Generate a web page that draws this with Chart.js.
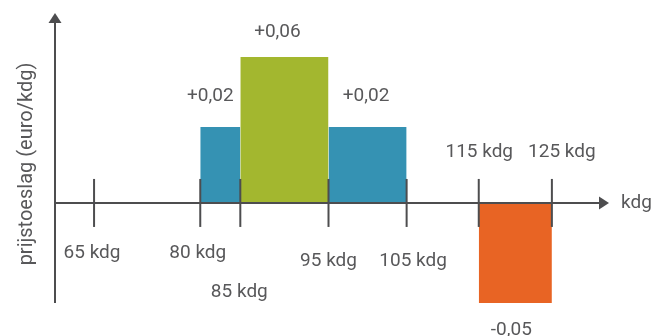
<!DOCTYPE html>
<html lang="nl">
<head>
<meta charset="utf-8">
<title>Prijstoeslag per gewichtsklasse</title>
<script src="https://cdn.jsdelivr.net/npm/chart.js@4.4.1/dist/chart.umd.min.js"></script>
<style>
  html, body { margin: 0; padding: 0; background: #ffffff; }
  #chart { display: block; }
</style>
</head>
<body>
<canvas id="chart" width="653" height="336"></canvas>
<script>
// Gewichtsklassen (kdg) die op de as gemarkeerd worden
const weightTicks = [65, 80, 85, 95, 105, 115, 125];

// Gewichtsbanden met hun prijstoeslag (euro/kdg)
const bandFrom = [80, 85, 95, 115];
const bandTo = [85, 95, 105, 125];
const surcharge = [0.02, 0.06, 0.02, -0.05];

const bandColors = ['#3592B3', '#A3B72F', '#3592B3', '#E86424'];
const TEXT = '#58585A';
const AXIS = '#4D4D4F';
const FONT = '19px Roboto, "Open Sans", sans-serif';
const TITLE_FONT = '20px Roboto, "Open Sans", sans-serif';

const formatSurcharge = v => (v > 0 ? '+' : '') + v.toFixed(2).replace('.', ',');
const formatWeight = v => v + ' kdg';

// Schematische as: waarden worden stuksgewijs lineair op de as gezet,
// zodat kleine en grote toeslagen allebei leesbaar blijven.
class SchematicScale extends Chart.LinearScale {
  _toDecimal(value) {
    const { knots, stops } = this.options;
    if (value <= knots[0]) return stops[0];
    for (let i = 1; i < knots.length; i++) {
      if (value <= knots[i]) {
        const t = (value - knots[i - 1]) / (knots[i] - knots[i - 1]);
        return stops[i - 1] + t * (stops[i] - stops[i - 1]);
      }
    }
    return stops[stops.length - 1];
  }
  getPixelForValue(value) {
    return this.getPixelForDecimal(this._toDecimal(value));
  }
  getValueForPixel(pixel) {
    const { knots, stops } = this.options;
    const d = this.getDecimalForPixel(pixel);
    for (let i = 1; i < stops.length; i++) {
      if (d <= stops[i]) {
        const t = (d - stops[i - 1]) / (stops[i] - stops[i - 1]);
        return knots[i - 1] + t * (knots[i] - knots[i - 1]);
      }
    }
    return knots[knots.length - 1];
  }
}
SchematicScale.id = 'schematic';
SchematicScale.defaults = {};
Chart.register(SchematicScale);

// Elke band als gevulde rechthoek tussen de as (0) en de toeslag
const datasets = surcharge.map((v, i) => ({
  data: [
    { x: bandFrom[i], y: 0 },
    { x: bandFrom[i], y: v },
    { x: bandTo[i], y: v },
    { x: bandTo[i], y: 0 }
  ],
  backgroundColor: bandColors[i],
  borderColor: bandColors[i],
  borderWidth: 0,
  pointRadius: 0,
  pointHoverRadius: 0,
  tension: 0,
  fill: 'origin'
}));

// Assen met pijlpunten, tickstrepen en alle teksten
const schematicAxes = {
  id: 'schematicAxes',
  afterDatasetsDraw(chart, args, opts) {
    const { ctx, chartArea: a, scales: { x, y } } = chart;
    const y0 = y.getPixelForValue(0);
    ctx.save();
    ctx.strokeStyle = AXIS;
    ctx.fillStyle = AXIS;
    ctx.lineWidth = 2;

    // verticale as
    ctx.beginPath();
    ctx.moveTo(a.left, a.bottom);
    ctx.lineTo(a.left, a.top + opts.arrowLength);
    ctx.stroke();
    ctx.beginPath();
    ctx.moveTo(a.left, a.top);
    ctx.lineTo(a.left - opts.arrowHalf, a.top + opts.arrowLength);
    ctx.lineTo(a.left + opts.arrowHalf, a.top + opts.arrowLength);
    ctx.closePath();
    ctx.fill();

    // horizontale as op toeslag 0
    ctx.beginPath();
    ctx.moveTo(a.left, y0);
    ctx.lineTo(a.right - opts.arrowLength, y0);
    ctx.stroke();
    ctx.beginPath();
    ctx.moveTo(a.right, y0);
    ctx.lineTo(a.right - opts.arrowLength, y0 - opts.arrowHalf);
    ctx.lineTo(a.right - opts.arrowLength, y0 + opts.arrowHalf);
    ctx.closePath();
    ctx.fill();

    // tickstrepen
    weightTicks.forEach(v => {
      const px = x.getPixelForValue(v);
      ctx.beginPath();
      ctx.moveTo(px, y0 - opts.tickLength);
      ctx.lineTo(px, y0 + opts.tickLength);
      ctx.stroke();
    });

    ctx.font = FONT;
    ctx.fillStyle = TEXT;
    ctx.textBaseline = 'alphabetic';

    // labels van de gewichtsklassen
    ctx.textAlign = 'center';
    weightTicks.forEach((v, i) => {
      const p = opts.tickLabelPlacement[i];
      ctx.fillText(formatWeight(v), x.getPixelForValue(v) + p.dx, y0 + p.dy);
    });

    // toeslagen boven/onder de banden
    surcharge.forEach((v, i) => {
      const p = opts.valueLabelPlacement[i];
      const cx = (x.getPixelForValue(bandFrom[i]) + x.getPixelForValue(bandTo[i])) / 2;
      const end = y.getPixelForValue(v);
      ctx.fillText(formatSurcharge(v), cx + p.dx, end + (v >= 0 ? -p.gap : p.gap));
    });

    // astitels
    ctx.textAlign = 'left';
    ctx.fillText('kdg', a.right + opts.xTitleGap, y0 + 5.5);

    ctx.save();
    ctx.font = TITLE_FONT;
    ctx.translate(opts.yTitleBaseline, (a.top + a.bottom) / 2 + opts.yTitleShift);
    ctx.rotate(-Math.PI / 2);
    ctx.textAlign = 'center';
    ctx.fillText('prijstoeslag (euro/kdg)', 0, 0);
    ctx.restore();

    ctx.restore();
  }
};

new Chart(document.getElementById('chart'), {
  type: 'line',
  data: { datasets },
  plugins: [schematicAxes],
  options: {
    responsive: false,
    animation: false,
    events: [],
    layout: { padding: { left: 55, right: 44, top: 13, bottom: 33 } },
    scales: {
      x: {
        type: 'schematic',
        display: false,
        min: 60,
        max: 132,
        knots: [60, 65, 80, 85, 95, 105, 115, 125, 132],
        stops: [0, 0.0705, 0.2622, 0.3345, 0.4937, 0.6347, 0.7649, 0.8969, 1]
      },
      y: {
        type: 'schematic',
        display: false,
        min: -0.05,
        max: 0.08,
        knots: [-0.05, 0, 0.02, 0.06, 0.08],
        stops: [0, 0.345, 0.607, 0.848, 1]
      }
    },
    plugins: {
      legend: { display: false },
      tooltip: { enabled: false },
      schematicAxes: {
        arrowLength: 10,
        arrowHalf: 6.5,
        tickLength: 24,
        xTitleGap: 12,
        yTitleBaseline: 31.5,
        yTitleShift: 6,
        tickLabelPlacement: [
          { dx: -2, dy: 55.5 },
          { dx: -2.5, dy: 55.5 },
          { dx: -1, dy: 94 },
          { dx: 0, dy: 63 },
          { dx: 6.5, dy: 63.5 },
          { dx: 0.5, dy: -45.5 },
          { dx: 10, dy: -45.5 }
        ],
        valueLabelPlacement: [
          { dx: -10, gap: 26 },
          { dx: -7, gap: 20.5 },
          { dx: -1.5, gap: 26 },
          { dx: -4, gap: 32 }
        ]
      }
    }
  }
});
</script>
</body>
</html>
